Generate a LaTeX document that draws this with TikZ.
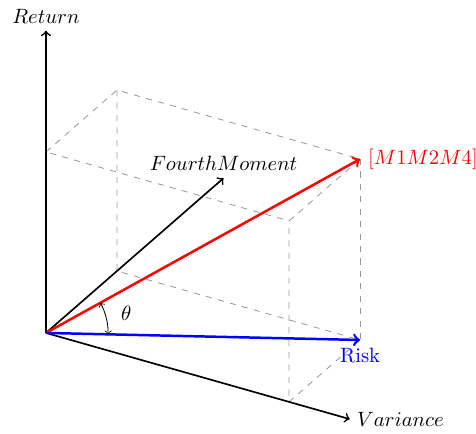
\documentclass[tikz,border=0pt]{standalone}
\usepackage{tikz}
\usetikzlibrary{angles, quotes}

\begin{document}
\begin{tikzpicture}[
  x={(117.4pt,-33.3pt)}, y={(34.3pt,29.9pt)}, z={(0pt,87.4pt)},
  axis/.style={->, thick},
  vec/.style={->, very thick},
  guide/.style={dashed, gray!80, thin}
]
  \useasboundingbox (-22.2pt,-48.8pt) rectangle (207.7pt,160.8pt);

  % corners of the box
  \coordinate (O) at (0,0,0);
  \coordinate (vx) at (1,0,0);
  \coordinate (vy) at (0,1,0);
  \coordinate (vz) at (0,0,1);
  \coordinate (vxy) at (1,1,0);
  \coordinate (vxz) at (1,0,1);
  \coordinate (vyz) at (0,1,1);
  \coordinate (vxyz) at (1,1,1);

  % dashed box
  \draw[guide] (vz) -- (vyz) -- (vxyz) -- (vxz) -- (vz);
  \draw[guide] (vyz) -- (vy) -- (vxy) -- (vx) -- (vxz);
  \draw[guide] (vxyz) -- (vxy);

  % axes
  \node[above] (ret) at (0,0,1.67) {$Return$};
  \node[right] (var) at (1.25,0,0) {$Variance$};
  \node[above] (fm) at (0,2.5,0) {$FourthMoment$};
  \draw[axis] (O) -- (ret.south);
  \draw[axis] (O) -- (var.west);
  \draw[axis] (O) -- (fm.south);

  % vectors
  \draw[vec, red] (O) -- (vxyz) node[right] (mlab) {$[M1M2M4]$};
  \draw[vec, blue] (O) -- (vxy) node[below] (risk) {Risk};

  \pic[draw, <->, angle radius=30pt, angle eccentricity=1.33, "$\theta$"] {angle = vxy--O--vxyz};
\end{tikzpicture}
\end{document}
